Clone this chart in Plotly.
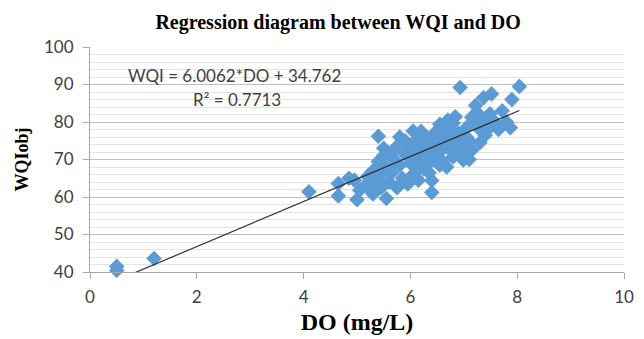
import plotly.graph_objects as go

# Data (DO in mg/L, WQIobj)
do_vals = [
    0.5, 0.5, 1.2, 4.1, 4.65, 4.65, 4.95, 5.0, 5.05, 5.4, 5.55, 6.4, 6.4,
    6.93, 8.04, 7.52, 7.9, 7.37, 7.22, 7.72, 7.49, 6.84, 7.15, 7.87, 7.6,
    7.33, 7.05, 6.8, 6.55, 6.05, 6.99, 6.68, 6.8, 6.12,
    5.15, 5.2, 5.25, 5.3, 5.35, 5.4, 5.45, 5.5, 5.3, 5.45, 5.5, 5.55,
    5.6, 5.65, 5.7, 5.75, 5.75, 5.8, 5.85, 5.9, 5.9, 5.95, 6.0, 6.0, 5.65, 5.8,
    6.05, 6.1, 6.1, 6.15, 6.2, 6.2, 6.25, 6.3, 6.3, 6.35, 6.4, 6.45, 6.45, 6.5, 6.15, 6.35,
    6.55, 6.6, 6.6, 6.65, 6.7, 6.75, 6.8, 6.85, 6.9, 6.95, 6.55, 6.7, 6.9,
    7.0, 7.05, 7.1, 7.15, 7.2, 7.3, 7.35, 7.4, 7.45, 7.25, 7.1,
    7.55, 7.65, 7.8, 4.85,
]
wqi_vals = [
    41.5, 40.4, 43.6, 61.4, 63.6, 60.3, 64.5, 59.3, 61.8, 76.2, 59.6, 64.4, 61.2,
    89.2, 89.5, 87.5, 86.0, 86.5, 84.4, 83.0, 82.2, 81.4, 81.3, 78.5, 79.6,
    77.6, 76.0, 79.7, 79.4, 77.6, 69.9, 68.0, 70.7, 67.2,
    63.0, 65.5, 62.0, 67.0, 64.5, 69.5, 66.0, 71.0, 60.8, 62.5, 73.0, 68.0,
    64.0, 66.5, 70.0, 62.5, 73.5, 68.5, 65.0, 71.5, 75.0, 63.5, 69.0, 73.0, 72.0, 76.0,
    66.0, 71.0, 75.0, 69.5, 73.5, 77.5, 67.5, 71.5, 75.5, 69.0, 73.0, 77.0, 70.5, 75.0, 64.5, 66.5,
    72.0, 76.5, 69.5, 74.0, 78.0, 72.5, 75.5, 73.0, 77.0, 71.5, 68.5, 80.5, 74.5,
    73.5, 78.5, 75.0, 72.5, 79.5, 74.5, 80.5, 76.5, 78.0, 82.5, 70.0,
    80.5, 78.0, 80.0, 65.0,
]

slope = 6.0062
intercept = 34.762
r2 = 0.7713

x_ticks = [0, 2, 4, 6, 8, 10]
y_ticks = [40, 50, 60, 70, 80, 90, 100]

trend_x = [min(do_vals), max(do_vals)]
trend_y = [slope * v + intercept for v in trend_x]

fig = go.Figure()
fig.add_trace(go.Scatter(
    x=do_vals, y=wqi_vals, mode="markers",
    marker=dict(symbol="diamond", size=12, color="#5B9BD5", line=dict(width=0)),
    showlegend=False, cliponaxis=False,
))
fig.add_trace(go.Scatter(
    x=trend_x, y=trend_y, mode="lines",
    line=dict(color="#303030", width=1.2),
    showlegend=False,
))

fig.add_annotation(
    x=2.7, y=92.5, xref="x", yref="y",
    text=f"WQI = {slope}*DO + {intercept}", showarrow=False,
    font=dict(family="Lato", size=17, color="#404040"),
)
fig.add_annotation(
    x=2.76, y=85.9, xref="x", yref="y",
    text=f"R² = {r2}", showarrow=False,
    font=dict(family="Lato", size=17, color="#404040"),
)

fig.update_layout(
    width=644, height=339,
    margin=dict(l=90, r=20, t=47, b=67),
    paper_bgcolor="white", plot_bgcolor="white",
    title=dict(
        text="<b>Regression diagram between WQI and DO</b>",
        x=0.525, xanchor="center", y=0.935, yanchor="middle",
        font=dict(family="Liberation Serif", size=20, color="black"),
    ),
    xaxis=dict(
        range=[0, 10], tickvals=x_ticks, ticktext=[str(v) for v in x_ticks],
        showgrid=False, zeroline=False, automargin=False,
        showline=True, linecolor="#A6A6A6", linewidth=1,
        ticks="outside", ticklen=6, tickcolor="#A6A6A6",
        ticklabelstandoff=4,
        tickfont=dict(family="Lato", size=17, color="#404040"),
        title=dict(text="<b>DO (mg/L)</b>", standoff=6,
                   font=dict(family="Liberation Serif", size=24, color="black")),
    ),
    yaxis=dict(
        range=[40, 100], tickvals=y_ticks, ticktext=[str(v) for v in y_ticks],
        showgrid=True, gridcolor="#BFBFBF", gridwidth=1, zeroline=False,
        automargin=False,
        showline=True, linecolor="#A6A6A6", linewidth=1,
        ticks="outside", ticklen=6, tickcolor="#A6A6A6",
        ticklabelstandoff=6,
        tickfont=dict(family="Lato", size=17, color="#404040"),
        minor=dict(dtick=2, showgrid=True, gridcolor="#E3E3E3", gridwidth=1),
        title=dict(text="<b>WQIobj</b>", standoff=10,
                   font=dict(family="Liberation Serif", size=18, color="black")),
    ),
)

fig.write_html("out.html")
